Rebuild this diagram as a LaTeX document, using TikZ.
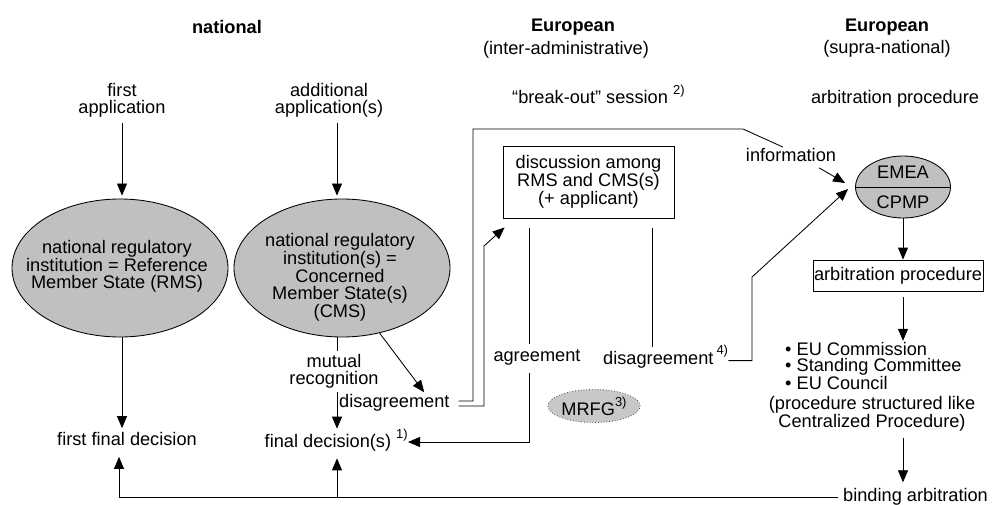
\documentclass[tikz,border=0pt]{standalone}
\usepackage{fontspec}
\setmainfont{Liberation Sans}
\usetikzlibrary{arrows.meta,calc,shapes.geometric}
\newcommand\supscr[1]{\raisebox{0.5em}{\fontsize{13}{13}\selectfont #1}}
\definecolor{ovalgray}{HTML}{C0C0C0}
\definecolor{mrfggray}{HTML}{C8C8C8}
\begin{document}
\begin{tikzpicture}[x=1pt,y=-1pt,
  every node/.style={font=\fontsize{18.2}{16.7}\selectfont, inner sep=0pt, align=center},
  hd/.style={font=\fontsize{18.2}{16.7}\selectfont\bfseries},
  ln/.style={line width=0.85pt, draw=black},
  arr/.style={ln, -{Triangle[length=12pt,width=10pt]}},
  oval/.style={ellipse, draw=black, line width=0.85pt, fill=ovalgray},
  boxed/.style={draw=black, line width=0.85pt},
]
\useasboundingbox (0,0) rectangle (995,505);

% helper x positions
\coordinate (xl) at (119,0);
\coordinate (xc) at (337,0);
\coordinate (xa) at (529,0);
\coordinate (xd) at (652,0);
\coordinate (xe) at (903,0);

% headers
\node[hd] (hnat) at (227,27) {national};
\node[hd] (heu1) at (573,27) {European};
\node (heu1s) at (566,50) {(inter-administrative)};
\node[hd] (heu2) at (887,27) {European};
\node (heu2s) at (887,49) {(supra-national)};

\node[anchor=base west] (bo) at (512,104) {“break-out” session~\supscr{2)}};
\node (arbh) at (895,99) {arbitration procedure};

% national column
\node (fapp) at (122,100) {first\\application};
\node (aapp) at (329,100) {additional\\application(s)};

\node[oval, minimum width=216pt, minimum height=138pt] (rms) at (120,268) {};
\node (rmst) at (117,266) {national regulatory\\institution = Reference\\Member State (RMS)};
\node[oval, minimum width=216pt, minimum height=138pt] (cms) at (342,268) {};
\node (cmst) at (340,277) {national regulatory\\institution(s) =\\Concerned\\Member State(s)\\(CMS)};

\node (ffd) at (127,439) {first final decision};
\node[anchor=east] (fd) at (408,440) {final decision(s)~\supscr{1)}};
\node (mr) at (334,371) {mutual\\recognition};
\node[anchor=west] (dis1) at (339,403) {disagreement};

\draw[arr] ([yshift=-6pt]fapp.south) -- ([yshift=3pt]rms.north -| fapp.south);
\draw[arr] ([yshift=-6pt]aapp.south -| xc) -- ([yshift=3pt]cms.north -| xc);
\draw[arr] (rms.south -| fapp.south) -- ([yshift=4pt]ffd.north -| fapp.south);
\draw[ln] (cms.south -| xc) -- ([yshift=3pt]mr.north -| xc);
\draw[arr] ([yshift=-4pt]mr.south -| xc) -- (fd.north -| xc);
\draw[arr] (cms.-60) -- ([yshift=2pt]$(dis1.north west)!0.77!(dis1.north east)$);

% European inter-administrative
\node[boxed, minimum width=171pt, minimum height=72pt] (disc) at (588.5,182) {discussion among\\RMS and CMS(s)\\(+ applicant)};
\node (agr) at (537,358) {agreement};
\node[anchor=base west] (dis2) at (603,364) {disagreement\,\supscr{4)}};
\node[ellipse, draw=black!70, dotted, line width=0.8pt, fill=mrfggray, minimum width=86pt, minimum height=33pt] (mrfg) at (594,406) {MRFG\supscr{3)}};

\draw[arr] ([xshift=9pt,yshift=-3pt]dis1.east) -| (484,246) -- ([xshift=2pt,yshift=-9pt]disc.south west);
\draw[ln] ([yshift=-10pt]disc.south -| xa) -- ([yshift=6pt]agr.north -| xa);
\draw[arr] ([yshift=-7pt]agr.south -| xa) |- ([yshift=-2pt]fd.east);
\draw[ln] ([yshift=-10pt]disc.south -| xd) -- ([yshift=-2pt]dis2.north -| xd);

% European supra-national
\node[oval, minimum width=95pt, minimum height=62pt] (emea) at (903,187) {};
\draw[ln] (emea.west) -- (emea.east);
\node (emeat) at (903,172) {EMEA};
\node (cpmp) at (903,202) {CPMP};
\node (info) at (791,155) {information};

\draw[ln] ([xshift=9pt,yshift=2pt]dis1.east) -| (473,129) -- (743,129) -- ([xshift=-8pt,yshift=1pt]info.north);
\draw[arr] ([xshift=-17pt,yshift=-6pt]info.south east) -- ([xshift=-10pt,yshift=4pt]emea.west);
\draw[arr] ([yshift=-4pt]dis2.east) -| (752,277) -- ([xshift=-7pt,yshift=-2pt]emea.west);

\node[boxed, minimum width=170pt, minimum height=31pt] (arbp) at (898,275.5) {arbitration procedure};
\node[anchor=west, align=left] (bul) at (785,366) {• EU Commission\\• Standing Committee\\• EU Council};
\node (proc) at (872,414) {(procedure structured like\\Centralized Procedure)};
\node[anchor=west] (bind) at (843,497) {binding arbitration};

\draw[arr] (emea.south) -- (emea.south |- arbp.north);
\draw[arr] ([yshift=-6pt]arbp.south -| xe) -- ([yshift=1pt]bul.north -| xe);
\draw[arr] ([yshift=-6pt]proc.south -| xe) -- ([yshift=6pt]bind.north -| xe);

% binding arbitration back to national decisions
\draw[arr] ([xshift=-5pt]bind.west) -| ([yshift=-11pt]ffd.south -| xl);
\draw[arr] (bind.west -| xc) -- ([yshift=-7pt]fd.south -| xc);
\end{tikzpicture}
\end{document}
